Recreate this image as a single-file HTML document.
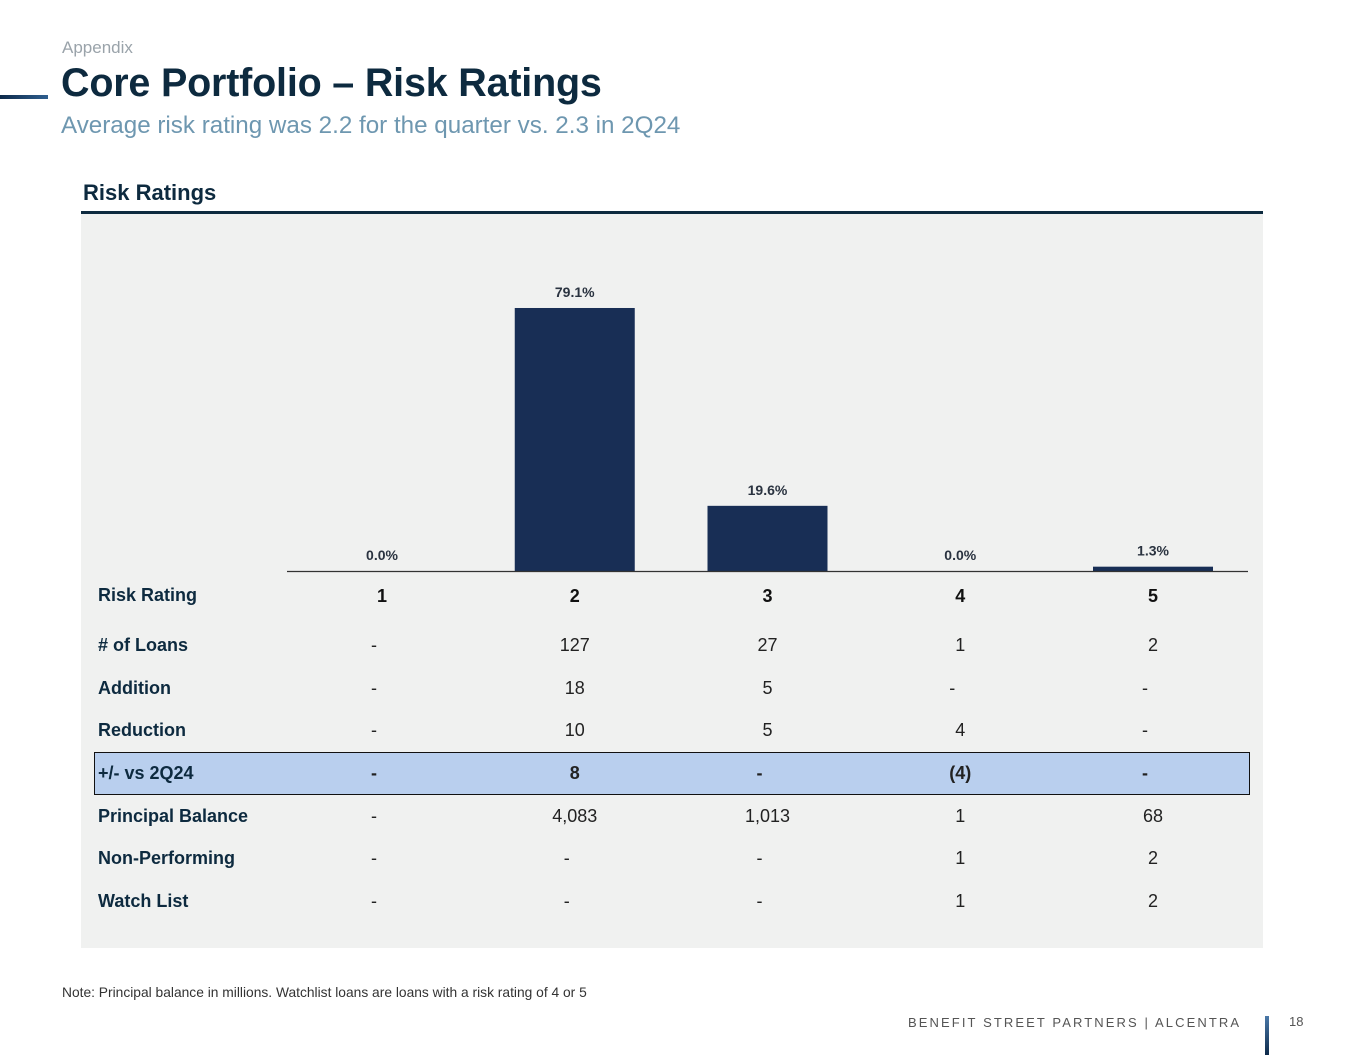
<!DOCTYPE html>
<html><head><meta charset="utf-8"><style>
body{margin:0;width:1365px;height:1055px;background:#fff;font-family:"Liberation Sans",sans-serif;position:relative;overflow:hidden}
.a{position:absolute;white-space:nowrap}
</style></head><body>
<div class="a" style="left:62px;top:38px;font-size:17px;color:#9aa3aa">Appendix</div>
<div class="a" style="left:0;top:95px;width:48px;height:4px;background:linear-gradient(90deg,#0d2a4a,#2f5f8f)"></div>
<div class="a" style="left:61px;top:61px;font-size:39.5px;font-weight:bold;color:#0d2a3f;letter-spacing:-0.2px">Core Portfolio – Risk Ratings</div>
<div class="a" style="left:61px;top:112px;font-size:24.2px;color:#6e97b0">Average risk rating was 2.2 for the quarter vs. 2.3 in 2Q24</div>
<div class="a" style="left:83px;top:180px;font-size:22px;font-weight:bold;color:#0d2a3f">Risk Ratings</div>
<div class="a" style="left:81px;top:211px;width:1182px;height:3px;background:#0d2a3f"></div>
<div class="a" style="left:81px;top:214px;width:1182px;height:734px;background:#f0f1f0"></div>
<svg class="a" id="chart" style="left:0;top:0" width="1365" height="1055" font-family="Liberation Sans, sans-serif"></svg>
<div class="a" style="left:62px;top:985px;font-size:13.8px;color:#333">Note: Principal balance in millions. Watchlist loans are loans with a risk rating of 4 or 5</div>
<div class="a" style="left:908px;top:1015px;font-size:13px;letter-spacing:2.1px;color:#555">BENEFIT STREET PARTNERS | ALCENTRA</div>
<div class="a" style="left:1265px;top:1016px;width:4px;height:39px;background:linear-gradient(#4a78a8,#0d2a4a)"></div>
<div class="a" style="left:1289px;top:1014px;font-size:13px;color:#555">18</div>
<script>
const ratings=["1","2","3","4","5"];
const shares=[0.0,79.1,19.6,0.0,1.3];
const rowLabels=["# of Loans","Addition","Reduction","+/- vs 2Q24","Principal Balance","Non-Performing","Watch List"];
const loans=["-","127","27","1","2"];
const additions=["-","18","5","-","-"];
const reductions=["-","10","5","4","-"];
const change=["-","8","-","(4)","-"];
const principal=["-","4,083","1,013","1","68"];
const nonPerforming=["-","-","-","1","2"];
const watchList=["-","-","-","1","2"];
const rows=[loans,additions,reductions,change,principal,nonPerforming,watchList];
const NS="http://www.w3.org/2000/svg",svg=document.getElementById('chart');
const x=i=>382+i*192.75, base=571, y=v=>base-v*3.325;
function mk(t,a,txt){const e=document.createElementNS(NS,t);for(const k in a)e.setAttribute(k,a[k]);if(txt!=null)e.textContent=txt;svg.appendChild(e);return e;}
ratings.forEach((r,i)=>{
 const h=base-y(shares[i]);
 const b=mk('rect',{x:x(i)-60,y:y(shares[i]),width:120,height:h,fill:'#182e55'});
 
 
 const l=mk('text',{x:x(i),y:y(shares[i])-11,'text-anchor':'middle','font-size':14,'font-weight':'bold',fill:'#2a3340'},shares[i].toFixed(1)+'%');
 
 
});
const ax=mk('line',{x1:287,x2:1248,y1:base+0.5,y2:base+0.5,stroke:'#333','stroke-width':1.2});


const hl=mk('rect',{x:94.5,y:752.5,width:1155,height:42,fill:'#b9cfee',stroke:'#111','stroke-width':1});


const hy=mk('text',{x:98,y:601,'font-size':18,'font-weight':'bold',fill:'#0d2a3f'},'Risk Rating');


ratings.forEach((r,i)=>{const t=mk('text',{x:x(i),y:602,'text-anchor':'middle','font-size':18,'font-weight':'bold',fill:'#111'},r);
 
 });
const ys=[645,688,730,773,816,858,901];
rows.forEach((row,j)=>{
 const bold=j===3;
 const t=mk('text',{x:98,y:ys[j]+6,'font-size':18,'font-weight':'bold',fill:'#0d2a3f'},rowLabels[j]);
 
 
 row.forEach((v,i)=>{const c=mk('text',{x:x(i)-(v==='-'?8:0),y:ys[j]+6,'text-anchor':'middle','font-size':18,'font-weight':bold?'bold':'normal',fill:'#222'},v);
  
  });
});
</script>
</body></html>
